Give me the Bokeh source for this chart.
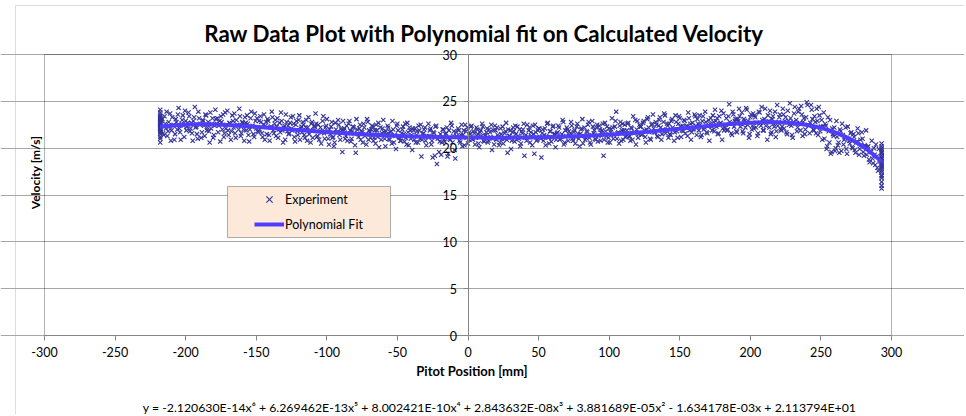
import numpy as np
from bokeh.plotting import figure
from bokeh.models import (FixedTicker, Legend, LegendItem, Label, BoxAnnotation,
                          LinearAxis, Grid, Range1d)
from bokeh.embed import file_html
from bokeh.resources import INLINE

# ---------------- chart texts ----------------
title_text = "Raw Data Plot with Polynomial fit on Calculated Velocity"
x_label = "Pitot Position  [mm]"
y_label = "Velocity [m/s]"
equation_text = ("y = -2.120630E-14x\u2076 + 6.269462E-13x\u2075 + 8.002421E-10x\u2074 + "
                 "2.843632E-08x\u00b3 + 3.881689E-05x\u00b2 - 1.634178E-03x + 2.113794E+01")
series_names = ["Experiment", "Polynomial Fit"]

x_ticks = [-300, -250, -200, -150, -100, -50, 0, 50, 100, 150, 200, 250, 300]
y_ticks = [0, 5, 10, 15, 20, 25, 30]

# polynomial trendline coefficients as printed on the chart (x^6 ... x^0)
fit_coeffs = [-2.120630e-14, 6.269462e-13, 8.002421e-10, 2.843632e-08,
              3.881689e-05, -1.634178e-03, 2.113794e+01]

# ---------------- experiment ----------------
position_mm = [
    -218, -218, -218, -218, -218, -218, -218, -218, -218, -218, -218, -218, -218,
    -218, -218, -218, -218, -218, -218, -218, -218, -218, -218, -218, -218,
    -217, -216, -215, -214, -213, -212, -211, -210, -209, -208,
    -207, -206, -205, -204, -203, -202, -201, -200, -199, -198,
    -197, -196, -195, -194, -193, -192, -191, -190, -189, -188,
    -187, -186, -185, -184, -183, -182, -181, -180, -179, -178,
    -177, -176, -175, -174, -173, -172, -171, -170, -169, -168,
    -167, -166, -165, -164, -163, -162, -161, -160, -159, -158,
    -157, -156, -155, -154, -153, -152, -151, -150, -149, -148,
    -147, -146, -145, -144, -143, -142, -141, -140, -139, -138,
    -137, -136, -135, -134, -133, -132, -131, -130, -129, -128,
    -127, -126, -125, -124, -123, -122, -121, -120, -119, -118,
    -117, -116, -115, -114, -113, -112, -111, -110, -109, -108,
    -107, -106, -105, -104, -103, -102, -101, -100, -99, -98,
    -97, -96, -95, -94, -93, -92, -91, -90, -89, -88,
    -87, -86, -85, -84, -83, -82, -81, -80, -79, -78,
    -77, -76, -75, -74, -73, -72, -71, -70, -69, -68,
    -67, -66, -65, -64, -63, -62, -61, -60, -59, -58,
    -57, -56, -55, -54, -53, -52, -51, -50, -49, -48,
    -47, -46, -45, -44, -43, -42, -41, -40, -39, -38,
    -37, -36, -35, -34, -33, -32, -31, -30, -29, -28,
    -27, -26, -25, -24, -23, -22, -21, -20, -19, -18,
    -17, -16, -15, -14, -13, -12, -11, -10, -9, -8,
    -7, -6, -5, -4, -3, -2, -1, 0, 1, 2,
    3, 4, 5, 6, 7, 8, 9, 10, 11, 12,
    13, 14, 15, 16, 17, 18, 19, 20, 21, 22,
    23, 24, 25, 26, 27, 28, 29, 30, 31, 32,
    33, 34, 35, 36, 37, 38, 39, 40, 41, 42,
    43, 44, 45, 46, 47, 48, 49, 50, 51, 52,
    53, 54, 55, 56, 57, 58, 59, 60, 61, 62,
    63, 64, 65, 66, 67, 68, 69, 70, 71, 72,
    73, 74, 75, 76, 77, 78, 79, 80, 81, 82,
    83, 84, 85, 86, 87, 88, 89, 90, 91, 92,
    93, 94, 95, 96, 97, 98, 99, 100, 101, 102,
    103, 104, 105, 106, 107, 108, 109, 110, 111, 112,
    113, 114, 115, 116, 117, 118, 119, 120, 121, 122,
    123, 124, 125, 126, 127, 128, 129, 130, 131, 132,
    133, 134, 135, 136, 137, 138, 139, 140, 141, 142,
    143, 144, 145, 146, 147, 148, 149, 150, 151, 152,
    153, 154, 155, 156, 157, 158, 159, 160, 161, 162,
    163, 164, 165, 166, 167, 168, 169, 170, 171, 172,
    173, 174, 175, 176, 177, 178, 179, 180, 181, 182,
    183, 184, 185, 186, 187, 188, 189, 190, 191, 192,
    193, 194, 195, 196, 197, 198, 199, 200, 201, 202,
    203, 204, 205, 206, 207, 208, 209, 210, 211, 212,
    213, 214, 215, 216, 217, 218, 219, 220, 221, 222,
    223, 224, 225, 226, 227, 228, 229, 230, 231, 232,
    233, 234, 235, 236, 237, 238, 239, 240, 241, 242,
    243, 244, 245, 246, 247, 248, 249, 250, 251, 252,
    253, 254, 255, 256, 257, 258, 259, 260, 261, 262,
    263, 264, 265, 266, 267, 268, 269, 270, 271, 272,
    273, 274, 275, 276, 277, 278, 279, 280, 281, 282,
    283, 284, 285, 286, 287, 288, 289, 290, 291, 292,
    293, 293, 293, 293, 293, 293, 293, 293, 293, 293, 293, 293, 293,
    293, 293, 293, 293, 293, 293, 293, 293, 293, 293, 293, 293,
]

velocity_ms = [
    20.6, 21.2, 21.5, 21.8, 22.0, 22.1, 22.3, 22.4, 22.5, 22.6, 22.7, 22.8, 22.9,
    23.0, 23.1, 23.2, 23.4, 23.6, 23.8, 24.1, 21.0, 21.7, 22.2, 22.6, 23.3,
    22.9, 21.6, 23.4, 22.1, 21.3, 22.8, 23.7, 21.9, 22.4, 20.9,
    23.1, 22.0, 24.3, 21.7, 22.6, 23.5, 21.2, 22.9, 22.3, 23.8,
    21.8, 22.7, 20.8, 23.3, 22.2, 21.5, 23.9, 22.5, 21.1, 23.0,
    22.4, 23.6, 21.9, 22.8, 20.6, 22.1, 23.2, 21.4, 24.1, 22.6,
    21.7, 22.9, 23.4, 22.0, 21.2, 23.8, 22.5, 21.9, 22.7, 20.9,
    23.5, 22.2, 21.6, 23.0, 22.4, 24.2, 21.3, 22.8, 22.0, 23.3,
    21.9, 22.6, 20.7, 23.2, 22.3, 21.5, 23.7, 22.1, 21.8, 22.9,
    23.4, 21.6, 22.5, 20.9, 22.8, 23.1, 21.4, 22.2, 23.9, 21.9,
    22.6, 21.3, 23.2, 22.0, 21.7, 22.9, 20.6, 22.4, 23.6, 21.8,
    21.5, 22.7, 22.1, 23.4, 21.2, 22.5, 21.8, 23.0, 20.9, 22.3,
    22.8, 21.4, 22.2, 20.8, 23.3, 21.9, 22.6, 21.1, 22.4, 23.7,
    21.2, 22.5, 21.8, 20.5, 22.9, 21.6, 22.2, 23.1, 21.0, 22.0,
    22.3, 21.1, 20.2, 22.7, 21.7, 23.0, 21.4, 22.1, 19.6, 21.9,
    21.0, 22.4, 21.6, 22.9, 20.7, 21.8, 22.2, 20.3, 23.1, 21.5,
    22.1, 20.9, 21.7, 22.6, 21.3, 20.4, 22.8, 21.9, 21.1, 22.4,
    20.8, 21.9, 22.5, 21.2, 20.1, 22.2, 21.6, 23.0, 21.0, 21.8,
    22.4, 21.0, 21.7, 20.5, 22.0, 21.4, 19.9, 22.6, 21.2, 20.8,
    21.6, 22.3, 20.7, 21.1, 22.7, 20.3, 21.9, 21.4, 22.1, 20.9,
    20.6, 21.8, 22.4, 21.0, 19.1, 21.5, 22.0, 20.8, 21.3, 22.6,
    21.9, 20.4, 19.0, 21.6, 22.3, 18.3, 21.2, 20.7, 19.3, 22.0,
    20.9, 21.5, 22.2, 19.4, 21.0, 22.7, 20.6, 21.8, 18.9, 21.3,
    22.1, 20.8, 21.4, 20.2, 21.9, 22.5, 21.1, 20.5, 21.7, 22.3,
    21.0, 21.8, 20.4, 22.2, 21.5, 20.1, 21.9, 22.6, 20.8, 21.3,
    21.7, 20.6, 22.0, 21.2, 19.8, 21.9, 22.4, 20.9, 21.4, 20.3,
    22.1, 21.0, 20.5, 21.6, 22.7, 19.5, 21.3, 21.9, 20.8, 22.2,
    20.7, 21.5, 22.3, 21.0, 20.2, 21.8, 22.0, 19.2, 21.4, 22.5,
    21.9, 20.6, 21.3, 22.4, 19.4, 21.7, 20.9, 22.1, 21.2, 19.0,
    22.0, 21.4, 20.3, 22.6, 21.1, 21.8, 20.7, 22.3, 21.5, 20.1,
    21.6, 22.4, 20.9, 21.2, 23.0, 20.4, 21.9, 22.2, 20.8, 21.4,
    22.8, 21.0, 21.7, 20.5, 22.3, 21.5, 20.2, 22.0, 23.1, 21.3,
    20.9, 21.8, 22.5, 21.1, 20.4, 22.9, 21.6, 21.0, 22.2, 20.7,
    22.4, 20.8, 21.9, 19.2, 22.7, 21.3, 20.6, 22.1, 21.7, 23.2,
    21.0, 22.3, 23.9, 21.6, 20.5, 22.8, 21.9, 20.9, 22.5, 21.3,
    22.6, 21.2, 20.8, 22.1, 23.4, 21.7, 20.4, 22.9, 21.5, 22.3,
    21.4, 22.7, 21.9, 20.6, 23.1, 22.2, 21.0, 22.5, 23.6, 21.7,
    22.8, 21.3, 22.4, 23.3, 20.9, 22.0, 23.7, 21.6, 22.6, 21.1,
    21.5, 22.9, 22.2, 20.8, 23.5, 21.8, 22.6, 23.2, 21.2, 22.4,
    23.0, 21.6, 22.4, 23.8, 21.9, 20.9, 22.7, 22.1, 23.4, 21.4,
    22.6, 23.5, 21.2, 22.9, 22.0, 23.9, 21.7, 22.4, 20.8, 23.2,
    21.9, 22.8, 24.1, 22.3, 21.5, 23.4, 22.7, 20.9, 23.7, 22.2,
    23.2, 22.0, 24.7, 22.6, 21.4, 23.6, 22.9, 21.8, 23.1, 24.2,
    22.3, 23.8, 21.6, 22.9, 24.3, 22.5, 21.1, 23.3, 22.0, 23.7,
    23.5, 22.2, 21.3, 23.9, 22.7, 24.4, 21.9, 23.1, 22.4, 20.9,
    22.9, 24.0, 21.7, 23.4, 22.3, 21.2, 24.6, 22.8, 23.6, 21.9,
    24.2, 22.1, 23.3, 21.5, 22.9, 24.8, 22.4, 21.1, 23.7, 22.6,
    21.8, 23.9, 22.7, 24.5, 21.3, 23.2, 22.0, 24.9, 22.5, 21.6,
    24.6, 23.1, 21.9, 22.8, 24.2, 21.4, 23.5, 22.3, 20.9, 23.8,
    22.6, 19.9, 23.3, 20.6, 19.4, 22.1, 21.3, 19.7, 22.9, 20.3,
    19.5, 21.8, 22.6, 20.4, 21.1, 19.9, 22.3, 20.8, 21.6, 20.1,
    21.5, 19.8, 20.6, 22.1, 19.3, 20.9, 21.7, 19.6, 20.3, 21.9,
    20.1, 18.8, 19.7, 20.8, 18.4, 19.3, 20.4, 17.9, 19.9, 18.6,
    15.7, 16.0, 16.4, 16.8, 17.1, 17.4, 17.6, 17.8, 18.0, 18.2, 18.4, 18.6, 18.8,
    19.0, 19.2, 19.4, 19.6, 19.8, 20.0, 20.2, 20.5, 17.0, 18.1, 18.9, 19.5,
]

# second pass of readings, taken between the whole-millimetre stations
position_half_mm = [
    -217.5, -216.5, -215.5, -214.5, -213.5, -212.5, -211.5, -210.5, -209.5, -208.5,
    -207.5, -206.5, -205.5, -204.5, -203.5, -202.5, -201.5, -200.5, -199.5, -198.5,
    -197.5, -196.5, -195.5, -194.5, -193.5, -192.5, -191.5, -190.5, -189.5, -188.5,
    -187.5, -186.5, -185.5, -184.5, -183.5, -182.5, -181.5, -180.5, -179.5, -178.5,
    -177.5, -176.5, -175.5, -174.5, -173.5, -172.5, -171.5, -170.5, -169.5, -168.5,
    -167.5, -166.5, -165.5, -164.5, -163.5, -162.5, -161.5, -160.5, -159.5, -158.5,
    -157.5, -156.5, -155.5, -154.5, -153.5, -152.5, -151.5, -150.5, -149.5, -148.5,
    -147.5, -146.5, -145.5, -144.5, -143.5, -142.5, -141.5, -140.5, -139.5, -138.5,
    -137.5, -136.5, -135.5, -134.5, -133.5, -132.5, -131.5, -130.5, -129.5, -128.5,
    -127.5, -126.5, -125.5, -124.5, -123.5, -122.5, -121.5, -120.5, -119.5, -118.5,
    -117.5, -116.5, -115.5, -114.5, -113.5, -112.5, -111.5, -110.5, -109.5, -108.5,
    -107.5, -106.5, -105.5, -104.5, -103.5, -102.5, -101.5, -100.5, -99.5, -98.5,
    -97.5, -96.5, -95.5, -94.5, -93.5, -92.5, -91.5, -90.5, -89.5, -88.5,
    -87.5, -86.5, -85.5, -84.5, -83.5, -82.5, -81.5, -80.5, -79.5, -78.5,
    -77.5, -76.5, -75.5, -74.5, -73.5, -72.5, -71.5, -70.5, -69.5, -68.5,
    -67.5, -66.5, -65.5, -64.5, -63.5, -62.5, -61.5, -60.5, -59.5, -58.5,
    -57.5, -56.5, -55.5, -54.5, -53.5, -52.5, -51.5, -50.5, -49.5, -48.5,
    -47.5, -46.5, -45.5, -44.5, -43.5, -42.5, -41.5, -40.5, -39.5, -38.5,
    -37.5, -36.5, -35.5, -34.5, -33.5, -32.5, -31.5, -30.5, -29.5, -28.5,
    -27.5, -26.5, -25.5, -24.5, -23.5, -22.5, -21.5, -20.5, -19.5, -18.5,
    -17.5, -16.5, -15.5, -14.5, -13.5, -12.5, -11.5, -10.5, -9.5, -8.5,
    -7.5, -6.5, -5.5, -4.5, -3.5, -2.5, -1.5, -0.5, 0.5, 1.5,
    2.5, 3.5, 4.5, 5.5, 6.5, 7.5, 8.5, 9.5, 10.5, 11.5,
    12.5, 13.5, 14.5, 15.5, 16.5, 17.5, 18.5, 19.5, 20.5, 21.5,
    22.5, 23.5, 24.5, 25.5, 26.5, 27.5, 28.5, 29.5, 30.5, 31.5,
    32.5, 33.5, 34.5, 35.5, 36.5, 37.5, 38.5, 39.5, 40.5, 41.5,
    42.5, 43.5, 44.5, 45.5, 46.5, 47.5, 48.5, 49.5, 50.5, 51.5,
    52.5, 53.5, 54.5, 55.5, 56.5, 57.5, 58.5, 59.5, 60.5, 61.5,
    62.5, 63.5, 64.5, 65.5, 66.5, 67.5, 68.5, 69.5, 70.5, 71.5,
    72.5, 73.5, 74.5, 75.5, 76.5, 77.5, 78.5, 79.5, 80.5, 81.5,
    82.5, 83.5, 84.5, 85.5, 86.5, 87.5, 88.5, 89.5, 90.5, 91.5,
    92.5, 93.5, 94.5, 95.5, 96.5, 97.5, 98.5, 99.5, 100.5, 101.5,
    102.5, 103.5, 104.5, 105.5, 106.5, 107.5, 108.5, 109.5, 110.5, 111.5,
    112.5, 113.5, 114.5, 115.5, 116.5, 117.5, 118.5, 119.5, 120.5, 121.5,
    122.5, 123.5, 124.5, 125.5, 126.5, 127.5, 128.5, 129.5, 130.5, 131.5,
    132.5, 133.5, 134.5, 135.5, 136.5, 137.5, 138.5, 139.5, 140.5, 141.5,
    142.5, 143.5, 144.5, 145.5, 146.5, 147.5, 148.5, 149.5, 150.5, 151.5,
    152.5, 153.5, 154.5, 155.5, 156.5, 157.5, 158.5, 159.5, 160.5, 161.5,
    162.5, 163.5, 164.5, 165.5, 166.5, 167.5, 168.5, 169.5, 170.5, 171.5,
    172.5, 173.5, 174.5, 175.5, 176.5, 177.5, 178.5, 179.5, 180.5, 181.5,
    182.5, 183.5, 184.5, 185.5, 186.5, 187.5, 188.5, 189.5, 190.5, 191.5,
    192.5, 193.5, 194.5, 195.5, 196.5, 197.5, 198.5, 199.5, 200.5, 201.5,
    202.5, 203.5, 204.5, 205.5, 206.5, 207.5, 208.5, 209.5, 210.5, 211.5,
    212.5, 213.5, 214.5, 215.5, 216.5, 217.5, 218.5, 219.5, 220.5, 221.5,
    222.5, 223.5, 224.5, 225.5, 226.5, 227.5, 228.5, 229.5, 230.5, 231.5,
    232.5, 233.5, 234.5, 235.5, 236.5, 237.5, 238.5, 239.5, 240.5, 241.5,
    242.5, 243.5, 244.5, 245.5, 246.5, 247.5, 248.5, 249.5, 250.5, 251.5,
    252.5, 253.5, 254.5, 255.5, 256.5, 257.5, 258.5, 259.5, 260.5, 261.5,
    262.5, 263.5, 264.5, 265.5, 266.5, 267.5, 268.5, 269.5, 270.5, 271.5,
    272.5, 273.5, 274.5, 275.5, 276.5, 277.5, 278.5, 279.5, 280.5, 281.5,
    282.5, 283.5, 284.5, 285.5, 286.5, 287.5, 288.5, 289.5, 290.5, 291.5,
]

velocity_half_ms = [
    22.0, 23.1, 21.4, 22.6, 23.9, 21.8, 22.3, 20.8, 23.3, 22.5,
    21.5, 22.8, 23.6, 22.1, 20.9, 23.0, 22.4, 24.0, 21.9, 22.7,
    23.4, 22.1, 21.6, 22.9, 24.4, 22.3, 21.0, 23.2, 22.6, 21.7,
    22.9, 21.3, 23.5, 22.2, 21.8, 23.8, 22.6, 21.1, 22.4, 23.1,
    23.2, 22.4, 20.7, 22.8, 23.6, 21.6, 22.1, 24.0, 21.4, 22.6,
    21.8, 22.9, 23.7, 21.1, 22.5, 22.0, 23.4, 21.6, 22.7, 20.8,
    22.7, 23.5, 21.4, 22.0, 23.9, 22.4, 21.2, 22.9, 23.2, 21.7,
    22.0, 22.8, 21.2, 23.6, 22.4, 21.5, 22.9, 20.8, 22.3, 23.3,
    21.6, 23.0, 22.3, 21.1, 22.7, 23.8, 21.9, 22.2, 20.9, 22.8,
    22.4, 21.6, 23.3, 21.9, 22.6, 20.7, 22.9, 21.4, 23.5, 22.1,
    21.7, 22.5, 21.1, 23.0, 22.2, 21.5, 20.6, 22.8, 21.9, 22.3,
    22.6, 21.3, 20.9, 22.2, 21.7, 23.4, 21.0, 22.4, 21.8, 20.4,
    21.5, 22.8, 21.2, 20.6, 22.0, 21.7, 22.5, 20.9, 21.9, 22.9,
    22.1, 21.3, 20.8, 22.6, 21.9, 21.0, 22.3, 21.6, 19.5, 22.0,
    21.2, 22.5, 21.8, 20.6, 22.2, 21.5, 23.1, 20.9, 21.7, 22.0,
    22.3, 21.1, 20.5, 21.9, 22.7, 21.4, 20.9, 22.1, 21.7, 20.2,
    21.5, 22.2, 20.9, 21.8, 22.9, 20.6, 21.3, 22.4, 21.9, 21.1,
    20.8, 22.0, 21.5, 22.6, 20.4, 21.7, 22.2, 21.0, 19.8, 21.9,
    22.1, 21.4, 20.6, 21.9, 22.5, 20.9, 21.6, 22.2, 20.3, 21.2,
    21.3, 22.1, 20.8, 21.7, 19.2, 22.4, 21.0, 19.6, 21.5, 20.6,
    22.0, 20.7, 21.6, 19.1, 21.9, 20.9, 22.4, 21.3, 19.8, 21.7,
    21.2, 21.9, 20.6, 22.5, 21.4, 20.3, 21.8, 22.2, 20.9, 21.5,
    22.4, 20.9, 21.6, 21.1, 22.0, 20.5, 21.7, 21.3, 22.3, 20.7,
    21.4, 22.1, 20.8, 21.7, 22.5, 21.0, 20.4, 21.9, 22.2, 21.2,
    20.6, 21.5, 22.3, 21.0, 21.8, 20.9, 22.0, 21.3, 19.9, 21.7,
    21.8, 22.4, 20.9, 21.3, 22.0, 20.5, 21.6, 22.6, 21.1, 20.8,
    21.2, 22.2, 21.7, 20.3, 21.5, 22.5, 20.8, 21.9, 22.1, 21.0,
    21.6, 20.8, 22.1, 21.3, 22.7, 20.5, 21.8, 21.1, 22.4, 21.5,
    20.9, 21.7, 22.2, 21.0, 21.5, 22.8, 20.6, 21.3, 22.0, 21.8,
    21.6, 22.4, 20.8, 21.9, 21.2, 22.6, 21.0, 21.5, 22.1, 20.5,
    22.2, 21.1, 21.7, 22.8, 20.6, 21.4, 22.3, 21.9, 20.9, 22.5,
    21.3, 22.0, 21.6, 22.6, 20.9, 21.8, 22.3, 21.1, 20.6, 22.0,
    22.2, 21.4, 22.9, 21.0, 21.7, 22.4, 20.8, 22.6, 21.9, 21.2,
    21.9, 22.7, 21.3, 22.2, 20.9, 21.6, 23.0, 22.0, 21.1, 22.5,
    22.3, 21.5, 22.9, 21.2, 22.0, 23.3, 21.7, 20.9, 22.6, 22.1,
    21.7, 22.5, 21.2, 23.0, 22.2, 21.5, 22.8, 23.5, 21.9, 22.4,
    22.6, 21.4, 23.1, 22.0, 21.7, 22.8, 21.1, 23.4, 22.3, 21.9,
    21.8, 22.9, 22.3, 21.3, 23.2, 22.6, 21.7, 22.0, 23.6, 22.4,
    23.1, 21.9, 22.5, 21.4, 23.4, 22.2, 22.8, 21.6, 23.0, 22.6,
    22.3, 23.5, 21.8, 22.9, 23.2, 21.6, 22.6, 24.0, 22.1, 21.9,
    22.5, 21.9, 23.4, 22.8, 21.6, 23.9, 22.3, 23.1, 21.7, 22.9,
    23.4, 22.6, 21.8, 23.1, 22.2, 24.1, 22.9, 21.5, 23.6, 22.4,
    22.1, 23.3, 22.7, 21.6, 23.8, 22.4, 23.0, 21.9, 24.2, 22.8,
    23.5, 22.2, 21.5, 23.1, 22.6, 23.9, 21.8, 22.4, 23.3, 22.0,
    22.3, 23.6, 22.9, 21.7, 24.0, 22.5, 23.2, 21.4, 22.8, 24.4,
    23.0, 22.2, 24.2, 21.9, 23.6, 22.8, 21.5, 23.3, 24.6, 22.4,
    22.7, 24.1, 22.0, 23.4, 21.6, 22.9, 24.4, 21.8, 23.0, 22.3,
    21.0, 22.4, 20.2, 21.8, 23.0, 19.6, 21.5, 22.2, 20.0, 21.2,
    20.6, 22.0, 19.7, 21.4, 20.9, 22.2, 19.4, 21.0, 20.5, 21.7,
    20.0, 21.2, 19.5, 20.7, 21.6, 19.9, 20.4, 21.0, 19.2, 20.2,
    19.3, 20.2, 18.5, 19.6, 18.9, 20.0, 18.2, 19.1, 17.6, 18.7,
]

all_x = list(position_mm) + list(position_half_mm)
all_y = list(velocity_ms) + list(velocity_half_ms)

# trendline evaluated from the printed coefficients at the measured positions
fit_x = np.unique(np.array(all_x, dtype=float))
fit_y = np.polyval(fit_coeffs, fit_x)

# ---------------- layout (pixels) ----------------
W, H = 964, 414
PLOT_L, PLOT_R, PLOT_T, PLOT_B = 44, 891, 54, 335
X_MIN, X_MAX = -300, 300
Y_MIN, Y_MAX = 0, 30
kx = (PLOT_R - PLOT_L) / (X_MAX - X_MIN)
ky = (PLOT_B - PLOT_T) / (Y_MAX - Y_MIN)
x_range = Range1d(X_MIN - PLOT_L / kx, X_MAX + (W - PLOT_R) / kx)
y_range = Range1d(Y_MIN - (H - PLOT_B) / ky, Y_MAX + PLOT_T / ky)

FONT = "Lato"
MARKER_COLOR = "#333399"
FIT_COLOR = "#4F3DFF"
AXIS_GRAY = "#868686"
GRID_GRAY = "#a6a6a6"
TICK_FS = "12.5px"

p = figure(width=W, height=H, x_range=x_range, y_range=y_range,
           output_backend="svg", toolbar_location=None,
           x_axis_location=None, y_axis_location=None,
           min_border=0, min_border_left=0, min_border_right=0,
           min_border_top=0, min_border_bottom=0,
           background_fill_color="white", border_fill_color="white")
p.outline_line_color = None
# drop the default full-width grids; the chart's own grid is added below
p.center = []

# outer chart-area frame (grey, runs off the right/bottom edge)
p.add_layout(BoxAnnotation(left=15, right=W + 20, top=H - 5, bottom=-20,
                           left_units="screen", right_units="screen",
                           top_units="screen", bottom_units="screen",
                           fill_alpha=0, line_color="#8c8c8c", line_width=1,
                           level="underlay"))

# horizontal gridlines
grid = Grid(dimension=1, ticker=FixedTicker(ticks=y_ticks), bounds=(X_MIN, X_MAX),
            grid_line_color=GRID_GRAY, grid_line_width=1)
p.add_layout(grid)

# plot-area border
p.add_layout(BoxAnnotation(left=X_MIN, right=X_MAX, bottom=Y_MIN, top=Y_MAX,
                           fill_alpha=0, line_color="black", line_width=1,
                           level="underlay"))

# x axis along y = 0
xa = LinearAxis(fixed_location=0, bounds=(X_MIN, X_MAX),
                ticker=FixedTicker(ticks=x_ticks),
                major_label_overrides={t: str(t) for t in x_ticks})
xa.axis_line_color = AXIS_GRAY
xa.major_tick_line_color = AXIS_GRAY
xa.major_tick_out = 5
xa.major_tick_in = 0
xa.minor_tick_line_color = None
xa.major_label_text_font = FONT
xa.major_label_text_font_size = TICK_FS
xa.major_label_text_color = "black"
xa.major_label_standoff = 6
p.add_layout(xa, "below")

# y axis crossing at x = 0
ya = LinearAxis(fixed_location=0, bounds=(Y_MIN, Y_MAX),
                ticker=FixedTicker(ticks=y_ticks),
                major_label_overrides={t: str(t) for t in y_ticks})
ya.axis_line_color = AXIS_GRAY
ya.major_tick_line_color = AXIS_GRAY
ya.major_tick_out = 5
ya.major_tick_in = 0
ya.minor_tick_line_color = None
ya.major_label_text_font = FONT
ya.major_label_text_font_size = TICK_FS
ya.major_label_text_color = "black"
ya.major_label_standoff = 6
p.add_layout(ya, "left")

# data
sc = p.scatter(all_x, all_y, marker="x", size=6,
               line_color=MARKER_COLOR, line_width=1.1)
ln = p.line(fit_x, fit_y, line_color=FIT_COLOR, line_width=4)

# legend box + legend
p.add_layout(BoxAnnotation(left=227, right=390, top=H - 186, bottom=H - 237,
                           left_units="screen", right_units="screen",
                           top_units="screen", bottom_units="screen",
                           fill_color="#FDE9D9", fill_alpha=1.0,
                           line_color="black", line_width=1, level="annotation"))
legend = Legend(items=[LegendItem(label=series_names[0], renderers=[sc]),
                       LegendItem(label=series_names[1], renderers=[ln])],
                location=(254, H - 235), padding=0, margin=0, spacing=3,
                label_height=22, glyph_height=22, glyph_width=30,
                label_standoff=1, border_line_color=None,
                background_fill_alpha=0,
                label_text_font=FONT, label_text_font_size=TICK_FS,
                label_text_color="black")
p.add_layout(legend)

# texts
p.add_layout(Label(x=484, y=H - 33, x_units="screen", y_units="screen",
                   text=title_text, text_align="center", text_baseline="middle",
                   text_font=FONT, text_font_size="22.3px", text_font_style="bold",
                   text_color="black"))
p.add_layout(Label(x=35, y=H - 172, x_units="screen", y_units="screen",
                   text=y_label, angle=np.pi / 2, text_align="center",
                   text_baseline="middle", text_font=FONT, text_font_size="12px",
                   text_font_style="bold", text_color="black"))
p.add_layout(Label(x=473, y=H - 370, x_units="screen", y_units="screen",
                   text=x_label, text_align="center", text_baseline="middle",
                   text_font=FONT, text_font_size="13px", text_font_style="bold",
                   text_color="black"))
p.add_layout(Label(x=499, y=H - 407, x_units="screen", y_units="screen",
                   text=equation_text, text_align="center", text_baseline="middle",
                   text_font=FONT, text_font_size="12.3px", text_color="black"))

open("out.html", "w").write(file_html(p, INLINE))
